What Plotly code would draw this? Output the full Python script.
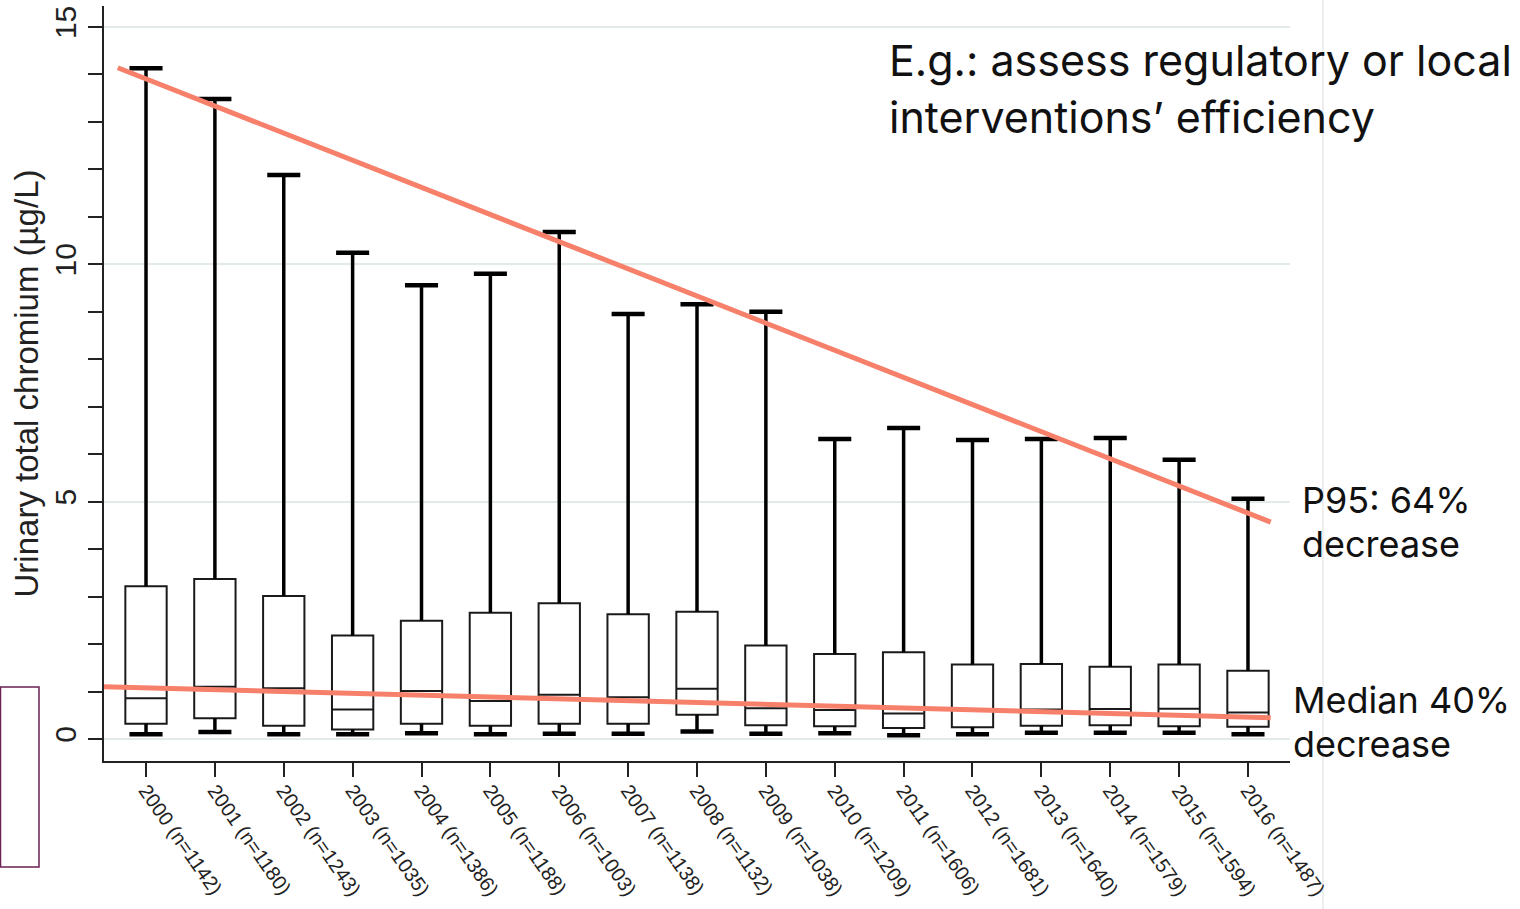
import plotly.graph_objects as go

# ---------------- data ----------------
years = [2000, 2001, 2002, 2003, 2004, 2005, 2006, 2007, 2008,
         2009, 2010, 2011, 2012, 2013, 2014, 2015, 2016]
n_obs = [1142, 1180, 1243, 1035, 1386, 1188, 1003, 1138, 1132,
         1038, 1209, 1606, 1681, 1640, 1579, 1594, 1487]
p95 = [14.13, 13.48, 11.88, 10.24, 9.56, 9.80, 10.68, 8.95, 9.16,
       9.00, 6.32, 6.55, 6.30, 6.32, 6.34, 5.88, 5.06]
q3 = [3.22, 3.37, 3.01, 2.18, 2.49, 2.66, 2.86, 2.63, 2.68,
      1.97, 1.79, 1.83, 1.57, 1.58, 1.52, 1.57, 1.44]
median = [0.86, 1.10, 1.07, 0.62, 1.01, 0.80, 0.93, 0.88, 1.06,
          0.65, 0.61, 0.54, 0.61, 0.62, 0.63, 0.64, 0.56]
q1 = [0.32, 0.44, 0.28, 0.20, 0.32, 0.28, 0.32, 0.32, 0.51,
      0.29, 0.27, 0.23, 0.25, 0.28, 0.29, 0.27, 0.26]
p5 = [0.10, 0.15, 0.10, 0.10, 0.12, 0.10, 0.11, 0.11, 0.16,
      0.11, 0.12, 0.08, 0.10, 0.13, 0.13, 0.13, 0.10]

tick_labels = [f"{y} (n={n})" for y, n in zip(years, n_obs)]

# trend lines (category-index x, value y)
p95_trend_x = [-0.41, 16.33]
p95_trend_y = [14.14, 4.57]
med_trend_x = [-0.61, 16.33]
med_trend_y = [1.10, 0.45]

# ---------------- styles ----------------
BOX_W = 0.6
CAP_HALF = 0.24
INK = "#1a1a1a"
SALMON = "#F7806B"
GRID = "#e3ebe9"
TICK_FONT = "Arial, Liberation Sans, sans-serif"
TEXT_FONT = "Inter, Lato, sans-serif"

idx = list(range(len(years)))

fig = go.Figure()

# boxes (whiskers drawn separately for thicker strokes)
fig.add_trace(go.Box(
    x=idx, q1=q1, median=median, q3=q3,
    lowerfence=q1, upperfence=q3,
    width=BOX_W, whiskerwidth=0,
    line=dict(color=INK, width=2),
    fillcolor="white",
    boxpoints=False, hoverinfo="skip", showlegend=False,
))

# whiskers
wx, wy = [], []
for i in idx:
    wx += [i, i, None, i, i, None]
    wy += [q3[i], p95[i], None, q1[i], p5[i], None]
fig.add_trace(go.Scatter(x=wx, y=wy, mode="lines",
                         line=dict(color="black", width=3.5),
                         hoverinfo="skip", showlegend=False))
# caps
cx, cy = [], []
for i in idx:
    cx += [i - CAP_HALF, i + CAP_HALF, None, i - CAP_HALF, i + CAP_HALF, None]
    cy += [p95[i], p95[i], None, p5[i], p5[i], None]
fig.add_trace(go.Scatter(x=cx, y=cy, mode="lines",
                         line=dict(color="black", width=4.5),
                         hoverinfo="skip", showlegend=False))

# trend lines
fig.add_trace(go.Scatter(x=p95_trend_x, y=p95_trend_y, mode="lines",
                         line=dict(color=SALMON, width=5),
                         hoverinfo="skip", showlegend=False))
fig.add_trace(go.Scatter(x=med_trend_x, y=med_trend_y, mode="lines",
                         line=dict(color=SALMON, width=5),
                         hoverinfo="skip", showlegend=False))

L, R, T, B = 104, 230, 6, 148
W, H = 1520, 909
pw, ph = W - L - R, H - T - B


def px_x(px):
    return (px - L) / pw


def px_y(py):
    return (H - B - py) / ph


fig.update_layout(
    width=W, height=H,
    margin=dict(l=L, r=R, t=T, b=B, autoexpand=False),
    paper_bgcolor="white", plot_bgcolor="white",
    showlegend=False,
    xaxis=dict(
        range=[-0.61, 16.61], automargin=False,
        tickmode="array", tickvals=idx, ticktext=tick_labels,
        tickangle=55, ticklabelstandoff=-6,
        tickfont=dict(family=TICK_FONT, size=20, color="#222"),
        ticks="outside", ticklen=14, tickwidth=2, tickcolor="#222",
        showline=True, linecolor="#222", linewidth=2,
        showgrid=False, zeroline=False,
    ),
    yaxis=dict(
        range=[-0.463, 15.44], automargin=False,
        tickmode="linear", tick0=0, dtick=5,
        tickangle=-90,
        tickfont=dict(family=TICK_FONT, size=30, color="#222"),
        ticks="outside", ticklen=14, tickwidth=2, tickcolor="#222",
        minor=dict(dtick=1, ticks="outside", ticklen=14, tickwidth=2,
                   tickcolor="#222", showgrid=False),
        showline=True, linecolor="#222", linewidth=2,
        showgrid=True, gridcolor=GRID, gridwidth=2,
        zeroline=False,
        title=dict(text="Urinary total chromium (µg/L)",
                   font=dict(family=TICK_FONT, size=33, color="#222"),
                   standoff=0),
    ),
)

# decorative slide elements
fig.add_shape(type="line", xref="paper", yref="paper",
              x0=px_x(1323), x1=px_x(1323), y0=px_y(0), y1=px_y(909),
              line=dict(color="#eeeeee", width=2), layer="below")
fig.add_shape(type="rect", xref="paper", yref="paper",
              x0=px_x(0.5), x1=px_x(39), y0=px_y(867), y1=px_y(687),
              line=dict(color="#6b2150", width=1.5))

ann = [
    ("E.g.: assess regulatory or local", 887, 60, 43),
    ("interventions\u2019 efficiency", 887, 117, 43),
    ("P95: 64%", 1300, 500, 36),
    ("decrease", 1300, 544, 36),
    ("Median 40%", 1291, 700, 36),
    ("decrease", 1291, 744, 36),
]
for text, x, y, size in ann:
    fig.add_annotation(text=text, xref="paper", yref="paper",
                       x=px_x(x), y=px_y(y), xanchor="left", yanchor="middle",
                       showarrow=False,
                       font=dict(family=TEXT_FONT, size=size, color="#111"))

fig.write_html("out.html",
               config={"displayModeBar": False},
               post_script="document.body.style.margin='0px';"
                           "document.body.style.overflow='hidden';")
